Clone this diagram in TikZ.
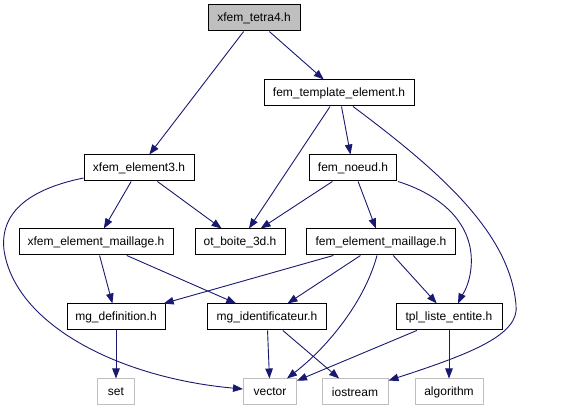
\documentclass[tikz,border=0pt]{standalone}
\usepackage{fontspec}
\setmainfont{Liberation Sans}
\usetikzlibrary{arrows.meta}
\definecolor{edgecol}{HTML}{191970}
\definecolor{leafgray}{HTML}{BFBFBF}
\tikzset{
  box/.style={draw=black, line width=1pt, fill=white, minimum height=26pt, inner sep=0pt,
    font=\fontsize{12}{14}\selectfont, text=black},
  rootbox/.style={box, fill=leafgray},
  leafbox/.style={box, draw=leafgray},
  dep/.style={draw=edgecol, line width=0.9pt, -{Triangle[length=10pt,width=7.5pt]}}
}
\begin{document}
\begin{tikzpicture}[x=1pt,y=-1pt]
\useasboundingbox (0,0) rectangle (571,411);
\node[rootbox, minimum width=92pt] (t4) at (254,18) {xfem\_tetra4.h};
\node[box, minimum width=150pt] (fte) at (339,93) {fem\_template\_element.h};
\node[box, minimum width=110pt] (xe3) at (139,168) {xfem\_element3.h};
\node[box, minimum width=87pt] (fn) at (353,168) {fem\_noeud.h};
\node[box, minimum width=154pt] (xem) at (96,242) {xfem\_element\_maillage.h};
\node[box, minimum width=90pt] (ob) at (240,242) {ot\_boite\_3d.h};
\node[box, minimum width=149pt] (fem) at (381,242) {fem\_element\_maillage.h};
\node[box, minimum width=98pt] (mgd) at (116,317) {mg\_definition.h};
\node[box, minimum width=119pt] (mgi) at (267,317) {mg\_identificateur.h};
\node[box, minimum width=106pt] (tpl) at (449,317) {tpl\_liste\_entite.h};
\node[leafbox, minimum width=37pt] (set) at (116,392) {set};
\node[leafbox, minimum width=53pt] (vec) at (270,392) {vector};
\node[leafbox, minimum width=66pt] (ios) at (355,392) {iostream};
\node[leafbox, minimum width=68pt] (alg) at (449,392) {algorithm};

\draw[dep] (t4) -- (xe3);
\draw[dep] (t4) -- (fte);
\draw[dep] (fte) -- (ob);
\draw[dep] (fte) -- (fn);
\draw[dep] ([xshift=14pt]fte.south) .. controls (445,175) and (510,235) .. (516,305)
   .. controls (520,335) and (470,354) .. ([yshift=-2pt]ios.north east);
\draw[dep] ([yshift=-10pt]xe3.west) .. controls (25,190) and (0,215) .. (4,250)
   .. controls (15,325) and (120,378) .. ([yshift=3pt]vec.west);
\draw[dep] (xe3) -- (xem);
\draw[dep] (xe3) -- (ob);
\draw[dep] (fn) -- (ob);
\draw[dep] (fn) -- (fem);
\draw[dep] ([xshift=1pt]fn.south east) .. controls (450,198) and (478,232) .. (470,275)
   .. controls (467,290) and (461,297) .. ([xshift=9pt]tpl.north);
\draw[dep] (xem) -- (mgd);
\draw[dep] (xem) -- (mgi);
\draw[dep] (fem) -- (mgd);
\draw[dep] (fem) -- (mgi);
\draw[dep] ([xshift=-4pt]fem.south) .. controls (365,300) and (330,345) .. ([xshift=-10pt]vec.north east);
\draw[dep] (fem) -- (tpl);
\draw[dep] (mgd) -- (set);
\draw[dep] (mgi) -- (vec);
\draw[dep] (mgi) -- (ios);
\draw[dep] (tpl) -- (vec);
\draw[dep] (tpl) -- (alg);
\end{tikzpicture}
\end{document}
